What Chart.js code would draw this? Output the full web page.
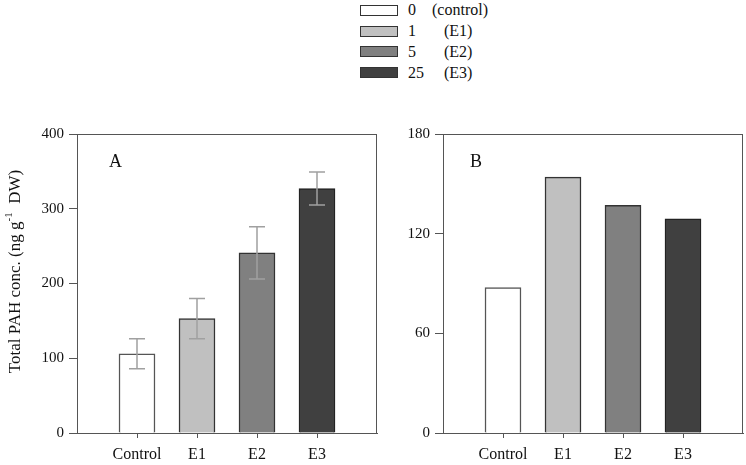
<!DOCTYPE html>
<html lang="en">
<head>
    <meta charset="UTF-8">
    <title>Total PAH conc.</title>
    <style>
        body {
            margin: 0;
            width: 746px;
            height: 465px;
            background: #fff;
            position: relative;
            overflow: hidden;
            font-family: "Liberation Serif", "Times New Roman", serif;
        }
        #chartA { position: absolute; left: 0; top: 0; }
        #chartB { position: absolute; left: 390px; top: 0; }
        .legend {
            position: absolute;
            left: 360px;
            top: 0;
            font-size: 16px;
            color: #111;
        }
        .legend .row {
            display: flex;
            align-items: center;
            height: 20.8px;
            white-space: pre;
        }
        .legend .box {
            width: 36px;
            height: 9px;
            border: 1px solid #333;
            margin-right: 10px;
        }
    </style>
    <script src="https://cdn.jsdelivr.net/npm/chart.js"></script>
</head>
<body>

<div class="legend" id="legend"></div>
<canvas id="chartA" width="390" height="465"></canvas>
<canvas id="chartB" width="356" height="465"></canvas>

<script>
    // data
    const categories = ['Control', 'E1', 'E2', 'E3'];
    const panelA = [106, 153, 241, 327];
    const panelAErr = [20, 27, 35, 22];
    const panelB = [87.6, 154, 137, 129];
    const legendLabels = ['0    (control)', '1       (E1)', '5       (E2)', '25     (E3)'];
    const barColors = ['#ffffff', '#c0c0c0', '#808080', '#404040'];

    const FONT = '"Liberation Serif", "Times New Roman", serif';
    const AXIS = '#555';

    // html legend
    const legendEl = document.getElementById('legend');
    legendLabels.forEach((txt, i) => {
        const row = document.createElement('div');
        row.className = 'row';
        const box = document.createElement('span');
        box.className = 'box';
        box.style.background = barColors[i];
        row.appendChild(box);
        row.appendChild(document.createTextNode(txt));
        legendEl.appendChild(row);
    });

    // frame around plot area
    const framePlugin = {
        id: 'frame',
        afterDraw(chart) {
            const a = chart.chartArea;
            const ctx = chart.ctx;
            ctx.save();
            ctx.strokeStyle = AXIS;
            ctx.lineWidth = 1;
            ctx.strokeRect(Math.round(a.left) + 0.5, Math.round(a.top) + 0.5,
                Math.round(a.right - a.left) - 1, Math.round(a.bottom - a.top));
            ctx.restore();
        }
    };

    // panel letter
    const letterPlugin = {
        id: 'letter',
        afterDraw(chart, args, opts) {
            const a = chart.chartArea;
            const ctx = chart.ctx;
            ctx.save();
            ctx.font = '18px ' + FONT;
            ctx.fillStyle = '#111';
            ctx.textBaseline = 'alphabetic';
            ctx.fillText(opts.text, a.left + opts.dx, a.top + 33);
            ctx.restore();
        }
    };

    // error bars from panelAErr
    const errorPlugin = {
        id: 'errors',
        afterDatasetsDraw(chart, args, opts) {
            if (!opts.errors) return;
            const ctx = chart.ctx;
            const xs = chart.scales.x, ys = chart.scales.y;
            const vals = chart.data.datasets[0].data;
            ctx.save();
            ctx.strokeStyle = '#a0a0a0';
            ctx.lineWidth = 1.5;
            vals.forEach((p, i) => {
                const x = xs.getPixelForValue(p.x);
                const t = ys.getPixelForValue(p.y + opts.errors[i]);
                const b = ys.getPixelForValue(p.y - opts.errors[i]);
                ctx.beginPath();
                ctx.moveTo(x, t); ctx.lineTo(x, b);
                ctx.moveTo(x - 8, t); ctx.lineTo(x + 8, t);
                ctx.moveTo(x - 8, b); ctx.lineTo(x + 8, b);
                ctx.stroke();
            });
            ctx.restore();
        }
    };

    // rotated y title with superscript
    const yTitlePlugin = {
        id: 'ytitle',
        afterDraw(chart, args, opts) {
            if (!opts.show) return;
            const a = chart.chartArea;
            const ctx = chart.ctx;
            const parts = [
                ['Total PAH conc. (ng g', 17, 0],
                ['-1', 11, -7],
                ['  DW)', 17, 0]
            ];
            ctx.save();
            let total = 0;
            parts.forEach(p => { ctx.font = p[1] + 'px ' + FONT; total += ctx.measureText(p[0]).width; });
            ctx.translate(16, (a.top + a.bottom) / 2 - 12);
            ctx.rotate(-Math.PI / 2);
            ctx.fillStyle = '#111';
            ctx.textBaseline = 'middle';
            let x = -total / 2;
            parts.forEach(p => {
                ctx.font = p[1] + 'px ' + FONT;
                ctx.fillText(p[0], x, p[2]);
                x += ctx.measureText(p[0]).width;
            });
            ctx.restore();
        }
    };

    function makeChart(id, values, yMax, yStep, yWidth, padRight, extra) {
        return new Chart(document.getElementById(id), {
            type: 'bar',
            data: {
                datasets: [{
                    data: values.map((v, i) => ({ x: i + 1, y: v })),
                    backgroundColor: barColors,
                    borderColor: ['#555', '#333', '#333', '#222'],
                    borderWidth: 1.5,
                    borderSkipped: 'bottom',
                    barThickness: 36
                }]
            },
            options: {
                responsive: false,
                animation: false,
                layout: { padding: { top: 134, right: padRight, left: 0, bottom: 0 } },
                plugins: {
                    legend: { display: false },
                    tooltip: { enabled: false },
                    letter: { text: extra.letter, dx: extra.dx },
                    errors: { errors: extra.errors },
                    ytitle: { show: extra.title }
                },
                scales: {
                    x: {
                        type: 'linear',
                        min: 0,
                        max: 5,
                        offset: false,
                        afterBuildTicks: (axis) => {
                            axis.ticks = categories.map((c, i) => ({ value: i + 1 }));
                        },
                        afterFit: (axis) => { axis.height = 32; },
                        grid: { offset: false, drawOnChartArea: false, tickLength: 5, color: AXIS },
                        border: { color: AXIS },
                        ticks: {
                            autoSkip: false,
                            maxRotation: 0,
                            padding: 7,
                            color: '#111',
                            font: { family: FONT, size: 16 },
                            callback: (v) => categories[v - 1]
                        }
                    },
                    y: {
                        min: 0,
                        max: yMax,
                        afterFit: (axis) => { axis.width = yWidth; },
                        grid: { drawOnChartArea: false, tickLength: 8, color: AXIS },
                        border: { color: AXIS },
                        ticks: {
                            stepSize: yStep,
                            padding: 5,
                            color: '#111',
                            font: { family: FONT, size: 15 }
                        }
                    }
                }
            },
            plugins: [framePlugin, letterPlugin, errorPlugin, yTitlePlugin]
        });
    }

    makeChart('chartA', panelA, 400, 100, 77, 13, { letter: 'A', dx: 32, errors: panelAErr, title: true });
    makeChart('chartB', panelB, 180, 60, 53, 3, { letter: 'B', dx: 27, errors: null, title: false });
</script>

</body>
</html>
